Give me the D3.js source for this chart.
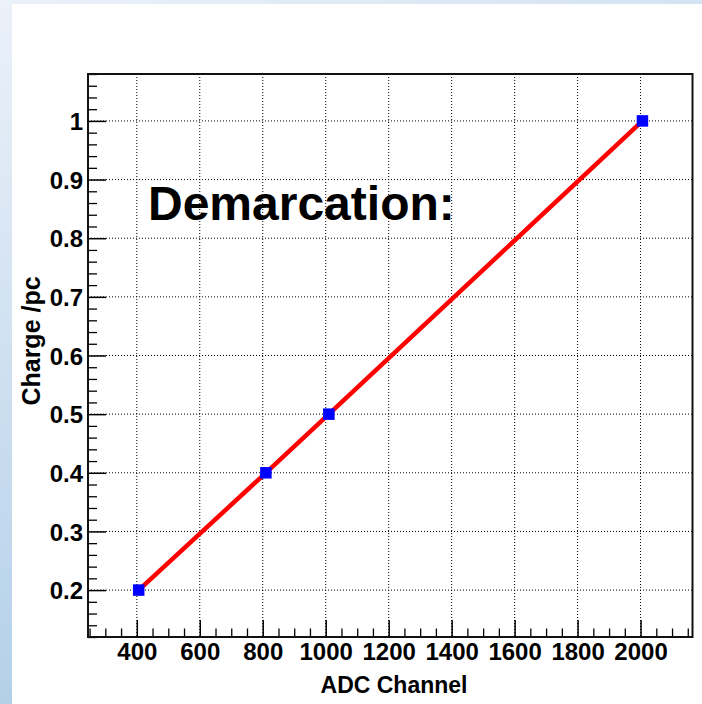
<!DOCTYPE html>
<html>
<head>
<meta charset="utf-8">
<script src="https://cdn.jsdelivr.net/npm/d3@7"></script>
<style>
  html, body { margin: 0; padding: 0; background: #fff; }
  svg { display: block; }
  text { font-family: "Liberation Sans", Arial, Helvetica, sans-serif; font-weight: bold; }
</style>
</head>
<body>
<svg id="chart" width="702" height="704"></svg>
<script>
// data
const adcChannel = [406, 810, 1010, 2006];
const charge = [0.2, 0.4, 0.5, 1.0];

const xMajor = [400, 600, 800, 1000, 1200, 1400, 1600, 1800, 2000];
const yMajor = [0.2, 0.3, 0.4, 0.5, 0.6, 0.7, 0.8, 0.9, 1.0];
const xDomain = [245, 2165];
const yDomain = [0.12, 1.08];

const titleText = "Demarcation:";
const xTitle = "ADC Channel";
const yTitle = "Charge /pc";

const svg = d3.select("#chart");
const W = 702, H = 704;
const frame = { left: 88, right: 692.5, top: 74, bottom: 637 };

// slide background: pale blue strips on left/top
const defs = svg.append("defs");
const gl = defs.append("linearGradient").attr("id", "leftGrad")
  .attr("x1", 0).attr("y1", 0).attr("x2", 0).attr("y2", 1);
gl.append("stop").attr("offset", "0%").attr("stop-color", "#ebf1f9");
gl.append("stop").attr("offset", "100%").attr("stop-color", "#b4d0e9");
const gt = defs.append("linearGradient").attr("id", "topGrad")
  .attr("x1", 0).attr("y1", 0).attr("x2", 1).attr("y2", 0);
gt.append("stop").attr("offset", "0%").attr("stop-color", "#ebf1f9");
gt.append("stop").attr("offset", "100%").attr("stop-color", "#d3e3f2");

svg.append("rect").attr("x", 0).attr("y", 0).attr("width", W).attr("height", 4)
  .attr("fill", "url(#topGrad)");
svg.append("rect").attr("x", 0).attr("y", 0).attr("width", 12).attr("height", H)
  .attr("fill", "url(#leftGrad)");

const x = d3.scaleLinear().domain(xDomain).range([frame.left, frame.right]);
const y = d3.scaleLinear().domain(yDomain).range([frame.bottom, frame.top]);

const xMinor = d3.range(250, 2165, 50).filter(v => v % 200 !== 0);
const yMinor = d3.range(12, 109, 2).map(v => v / 100).filter(v => Math.round(v * 100) % 10 !== 0);

// grid
const grid = svg.append("g").attr("stroke", "#000").attr("stroke-width", 1)
  .attr("stroke-dasharray", "1,2");
grid.selectAll("line.gx").data(xMajor).enter().append("line")
  .attr("x1", d => x(d)).attr("x2", d => x(d))
  .attr("y1", frame.top).attr("y2", frame.bottom);
grid.selectAll("line.gy").data(yMajor).enter().append("line")
  .attr("y1", d => y(d)).attr("y2", d => y(d))
  .attr("x1", frame.left).attr("x2", frame.right);

// minor ticks
svg.append("g")
  .attr("transform", `translate(0,${frame.bottom})`)
  .call(d3.axisBottom(x).tickValues(xMinor).tickSize(-8.5).tickFormat(""))
  .call(g => g.select(".domain").remove())
  .selectAll("line").attr("stroke", "#000").attr("stroke-width", 1.3);
svg.append("g")
  .attr("transform", `translate(${frame.left},0)`)
  .call(d3.axisLeft(y).tickValues(yMinor).tickSize(-9).tickFormat(""))
  .call(g => g.select(".domain").remove())
  .selectAll("line").attr("stroke", "#000").attr("stroke-width", 1.3);

// major ticks + labels
const xAxis = svg.append("g")
  .attr("transform", `translate(0,${frame.bottom})`)
  .call(d3.axisBottom(x).tickValues(xMajor).tickSizeInner(-17).tickSizeOuter(0)
    .tickFormat(d3.format("d")));
xAxis.select(".domain").remove();
xAxis.selectAll("line").attr("stroke", "#000").attr("stroke-width", 1.5);
xAxis.selectAll("text").attr("font-size", 24).attr("fill", "#000")
  .attr("dy", null).attr("y", 23);

const yAxis = svg.append("g")
  .attr("transform", `translate(${frame.left},0)`)
  .call(d3.axisLeft(y).tickValues(yMajor).tickSizeInner(-18).tickSizeOuter(0)
    .tickFormat(d => d === 1 ? "1" : d3.format(".1f")(d)));
yAxis.select(".domain").remove();
yAxis.selectAll("line").attr("stroke", "#000").attr("stroke-width", 1.5);
yAxis.selectAll("text").attr("font-size", 24).attr("fill", "#000")
  .attr("x", -5).attr("dy", "0.36em");

// frame
svg.append("rect")
  .attr("x", frame.left).attr("y", frame.top)
  .attr("width", frame.right - frame.left).attr("height", frame.bottom - frame.top)
  .attr("fill", "none").attr("stroke", "#111").attr("stroke-width", 2);

// the line
const pts = adcChannel.map((v, i) => [v, charge[i]]);
svg.append("path").datum(pts)
  .attr("fill", "none").attr("stroke", "#ff0000").attr("stroke-width", 4.5)
  .attr("d", d3.line().x(d => x(d[0])).y(d => y(d[1])));

const ms = 11.5;
svg.selectAll("rect.pt").data(pts).enter().append("rect")
  .attr("class", "pt")
  .attr("x", d => x(d[0]) - ms / 2).attr("y", d => y(d[1]) - ms / 2)
  .attr("width", ms).attr("height", ms)
  .attr("fill", "#0000ff");

// texts
svg.append("text").attr("x", 148).attr("y", 220)
  .attr("font-size", 48).attr("fill", "#000").text(titleText);

svg.append("text").attr("x", 394).attr("y", 693)
  .attr("text-anchor", "middle").attr("font-size", 23).attr("fill", "#000").text(xTitle);

svg.append("text")
  .attr("transform", `translate(40,341) rotate(-90)`)
  .attr("text-anchor", "middle").attr("font-size", 25).attr("fill", "#000").text(yTitle);
</script>
</body>
</html>
